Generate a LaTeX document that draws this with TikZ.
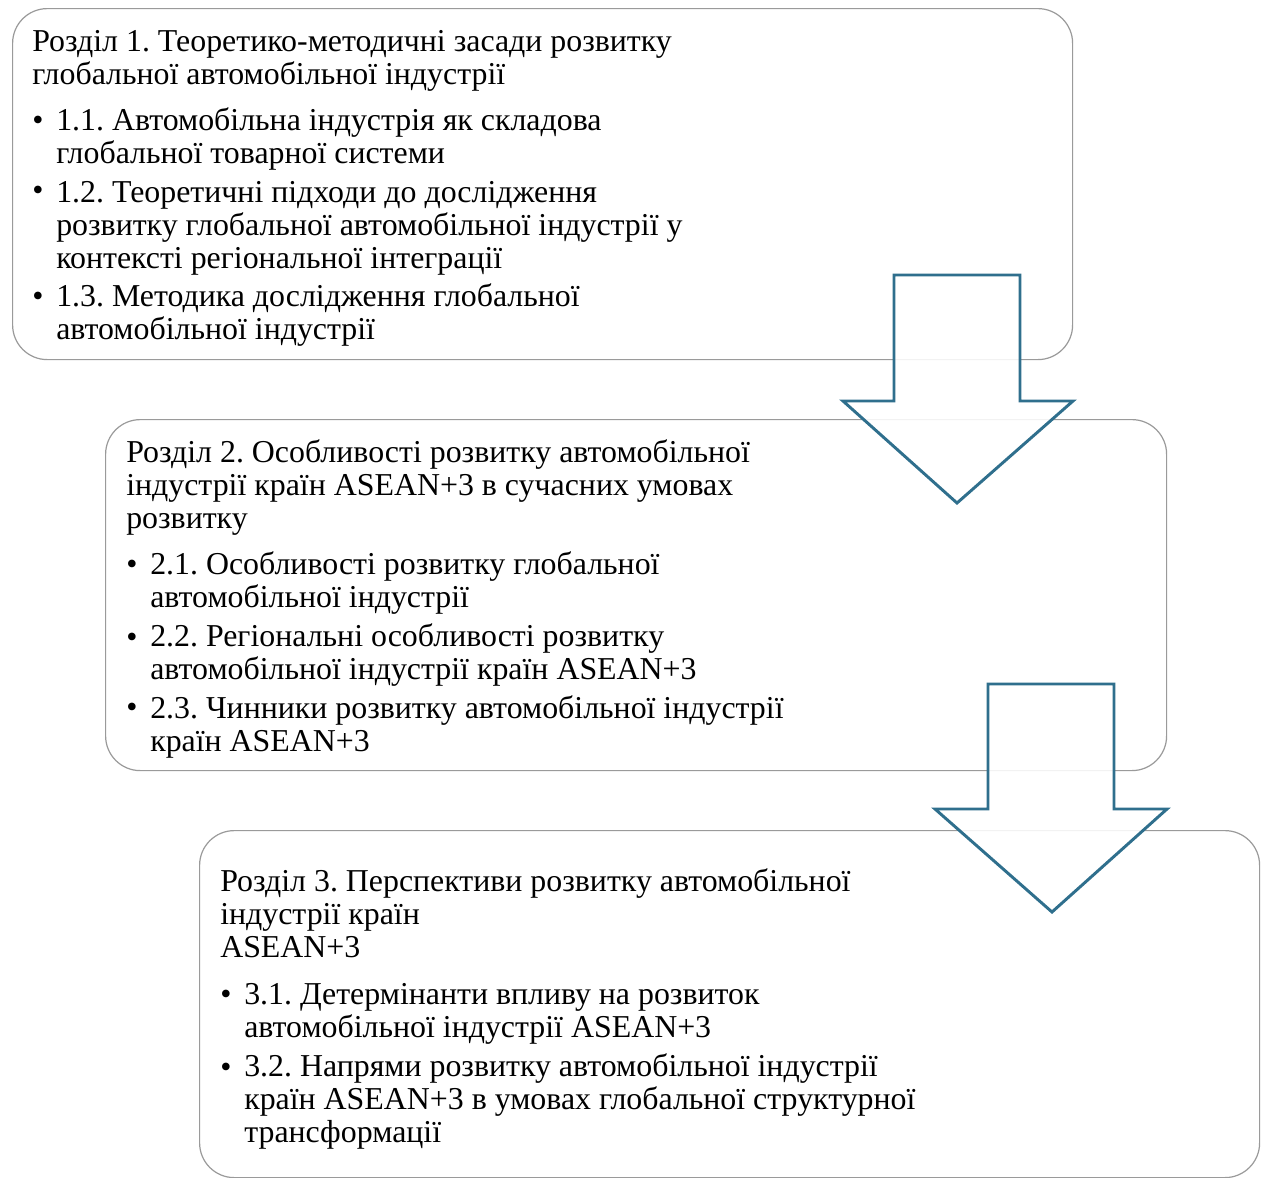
\documentclass[tikz,border=0pt]{standalone}
\usepackage{fontspec}
\setmainfont{Liberation Serif}
\definecolor{arrowblue}{HTML}{2F6F8D}
\definecolor{boxgray}{HTML}{9A9A9A}
\begin{document}
\frenchspacing
\begin{tikzpicture}[x=0.75pt,y=-0.75pt,
  secbox/.style={draw=boxgray, line width=0.9pt, fill=white, rounded corners=26pt, anchor=north west, inner sep=0pt},
  txt/.style={anchor=base west, inner sep=0pt, align=left, font=\fontsize{23.9}{24.75}\selectfont},
  bul/.style={anchor=base west, inner sep=0pt, font=\fontsize{23.9}{24.75}\selectfont},
  blockarrow/.style={draw=arrowblue, line width=2.2pt, fill=white, fill opacity=0.88, line join=miter}]
\useasboundingbox (0,0) rectangle (1264,1178);

% boxes
\node[secbox, minimum width=795pt, minimum height=263.25pt] (b1) at (12,8) {};
\node[secbox, minimum width=795.75pt, minimum height=263.25pt] (b2) at (105,419) {};
\node[secbox, minimum width=795pt, minimum height=260.25pt] (b3) at (199,830) {};

% box 1 text (node base = baseline of last line)
\node[txt] (t1) at (32,84) {Розділ 1. Теоретико-методичні засади розвитку\\глобальної автомобільної індустрії};
\node[bul] (d11) at (32,130) {•};
\node[txt] (t11) at (56,163) {1.1. Автомобільна індустрія як складова\\глобальної товарної системи};
\node[bul] (d12) at (32,200) {•};
\node[txt] (t12) at (56,268) {1.2. Теоретичні підходи до дослідження\\розвитку глобальної автомобільної індустрії у\\контексті регіональної інтеграції};
\node[bul] (d13) at (32,306) {•};
\node[txt] (t13) at (56,339) {1.3. Методика дослідження глобальної\\автомобільної індустрії};

% box 2 text
\node[txt] (t2) at (126,528) {Розділ 2. Особливості розвитку автомобільної\\індустрії країн ASEAN+3 в сучасних умовах\\розвитку};
\node[bul] (d21) at (126,574) {•};
\node[txt] (t21) at (150,607) {2.1. Особливості розвитку глобальної\\автомобільної індустрії};
\node[bul] (d22) at (126,647) {•};
\node[txt] (t22) at (150,679) {2.2. Регіональні особливості розвитку\\автомобільної індустрії країн ASEAN+3};
\node[bul] (d23) at (126,717) {•};
\node[txt] (t23) at (150,751) {2.3. Чинники розвитку автомобільної індустрії\\країн ASEAN+3};

% box 3 text
\node[txt] (t3) at (220,957) {Розділ 3. Перспективи розвитку автомобільної\\індустрії країн\\ASEAN+3};
\node[bul] (d31) at (220,1004) {•};
\node[txt] (t31) at (244,1037) {3.1. Детермінанти впливу на розвиток\\автомобільної індустрії ASEAN+3};
\node[bul] (d32) at (220,1077) {•};
\node[txt] (t32) at (244,1142) {3.2. Напрями розвитку автомобільної індустрії\\країн ASEAN+3 в умовах глобальної структурної\\трансформації};

% block arrows
\draw[blockarrow] (894,275) -- (1020,275) -- (1020,401) -- (1073,401) -- (957,503) -- (843,401) -- (894,401) -- cycle;
\draw[blockarrow] (988,684) -- (1114,684) -- (1114,809) -- (1167,809) -- (1052,912) -- (935,809) -- (988,809) -- cycle;
\end{tikzpicture}
\end{document}
